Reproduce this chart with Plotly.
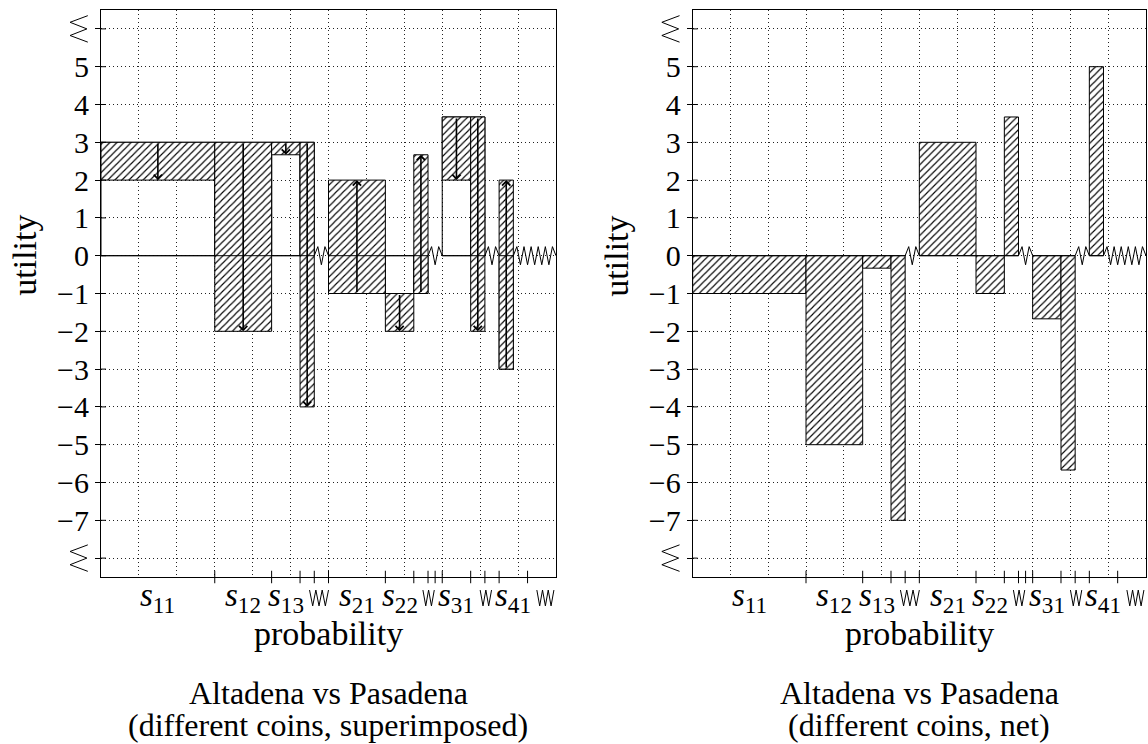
import plotly.graph_objects as go

# ---------------- data ----------------
x_start = [0, 3, 4.5, 5.25, 6, 7.5, 8.25, 9, 9.75, 10.5]
x_end = [3, 4.5, 5.25, 5.625, 7.5, 8.25, 8.625, 9.75, 10.125, 10.875]
altadena = [3, 3, 3, 3, -1, -1, -1, 3.67, 3.67, -3]
pasadena = [2, -2, 2.67, -4, 2, -2, 2.67, 2, -2, 2]
x_max = 12

label_pos = [1.5, 3.75, 4.875, 6.75, 7.875, 9.375, 10.875]
label_text = ["<i>s</i><sub>11</sub>", "<i>s</i><sub>12</sub>", "<i>s</i><sub>13</sub>",
              "<i>s</i><sub>21</sub>", "<i>s</i><sub>22</sub>", "<i>s</i><sub>31</sub>",
              "<i>s</i><sub>41</sub>"]
boundary_ticks = [3, 4.5, 5.25, 5.625, 6, 7.5, 8.25, 8.625, 8.8125, 9, 9.75, 10.125, 10.5, 11.25]
break_label_pos = [5.75, 8.64, 10.15, 11.72]
break_label_width = [0.5, 0.3, 0.3, 0.45]
break_label_vertices = [7, 5, 5, 7]

y_ticks = list(range(-8, 7))
y_break_ticks = [-8, 6]
y_range = [-8.5, 6.5]

captions = [("Altadena vs Pasadena", "(different coins, superimposed)"),
            ("Altadena vs Pasadena", "(different coins, net)")]

FONT = "Liberation Serif"
HATCH = dict(shape="/", size=5, solidity=0.22, fgcolor="black", bgcolor="white", fillmode="replace")
GRID = dict(color="#222", dash="1px,3px", width=1)

net = [p - a for p, a in zip(pasadena, altadena)]


def rect(x0, x1, y0, y1):
    return [x0, x1, x1, x0, x0], [y0, y0, y1, y1, y0]


def zero_line():
    gaps = []
    for i in range(len(x_start)):
        nxt = x_start[i + 1] if i + 1 < len(x_start) else x_max
        if nxt > x_end[i]:
            gaps.append((x_end[i], nxt))
    xs, ys = [0], [0]
    amp = 0.24
    for a, b in gaps:
        w = b - a
        n = max(3, int(round(w / 0.095)) - 1)
        d = w / (n + 1)
        xs.append(a); ys.append(0)
        for k in range(n):
            xs.append(a + d * (k + 1))
            ys.append(amp if k % 2 == 0 else -amp)
        xs.append(b); ys.append(0)
    if xs[-1] < x_max:
        xs.append(x_max); ys.append(0)
    return xs, ys


fig = go.Figure()
shapes = []
annotations = []

panels = [("x", "y", "superimposed"), ("x2", "y2", "net")]
for pi, (xa, ya, mode) in enumerate(panels):
    if mode == "superimposed":
        for i in range(len(x_start)):
            px, py = rect(x_start[i], x_end[i], 0, altadena[i])
            fig.add_trace(go.Scatter(x=px, y=py, mode="lines", line=dict(color="black", width=1),
                                     xaxis=xa, yaxis=ya, showlegend=False, hoverinfo="skip"))
        for i in range(len(x_start)):
            px, py = rect(x_start[i], x_end[i], altadena[i], pasadena[i])
            fig.add_trace(go.Scatter(x=px, y=py, mode="lines", fill="toself", fillcolor="white",
                                     fillpattern=HATCH, line=dict(color="black", width=1),
                                     xaxis=xa, yaxis=ya, showlegend=False, hoverinfo="skip"))
    else:
        for i in range(len(x_start)):
            px, py = rect(x_start[i], x_end[i], 0, net[i])
            fig.add_trace(go.Scatter(x=px, y=py, mode="lines", fill="toself", fillcolor="white",
                                     fillpattern=HATCH, line=dict(color="black", width=1),
                                     xaxis=xa, yaxis=ya, showlegend=False, hoverinfo="skip"))
    zx, zy = zero_line()
    fig.add_trace(go.Scatter(x=zx, y=zy, mode="lines", line=dict(color="black", width=1),
                             xaxis=xa, yaxis=ya, showlegend=False, hoverinfo="skip"))

    if mode == "superimposed":
        for i in range(len(x_start)):
            xc = (x_start[i] + x_end[i]) / 2
            annotations.append(dict(x=xc, y=pasadena[i], ax=xc, ay=altadena[i],
                                    xref=xa, yref=ya, axref=xa, ayref=ya,
                                    showarrow=True, arrowhead=4, arrowsize=1,
                                    arrowwidth=1.6, arrowcolor="black", text="", standoff=0))

    xd = xa + " domain"
    yd = ya + " domain"
    # inside part of y ticks
    for v in y_ticks:
        shapes.append(dict(type="line", xref=xd, yref=ya, x0=0, x1=0.011, y0=v, y1=v,
                           line=dict(color="black", width=1)))
    # boundary ticks on x axis
    for v in boundary_ticks:
        shapes.append(dict(type="line", xref=xa, yref=yd, x0=v, x1=v, y0=-0.011, y1=0.011,
                           line=dict(color="black", width=1)))
    # y-axis break glyphs
    for v in y_break_ticks:
        gx = [-0.029, -0.068, -0.031, -0.068, -0.029]
        gy = [v + 0.35, v + 0.175, v, v - 0.175, v - 0.35]
        path = "M " + " L ".join(f"{a},{b}" for a, b in zip(gx, gy))
        shapes.append(dict(type="path", xref=xd, yref=ya, path=path,
                           line=dict(color="black", width=1)))
    # x-axis break glyphs
    for c, w, n in zip(break_label_pos, break_label_width, break_label_vertices):
        gx = [c - w / 2 + w * k / (n - 1) for k in range(n)]
        gy = [-0.023 if k % 2 == 0 else -0.051 for k in range(n)]
        path = "M " + " L ".join(f"{a},{b}" for a, b in zip(gx, gy))
        shapes.append(dict(type="path", xref=xa, yref=yd, path=path,
                           line=dict(color="black", width=1)))

    # state labels under the axis
    for pos, txt in zip(label_pos, label_text):
        annotations.append(dict(text=txt, xref=xa, yref=yd, x=pos, y=-0.037,
                                showarrow=False, xanchor="center", yanchor="middle",
                                font=dict(family=FONT, size=33, color="black")))

    annotations.append(dict(text="utility", xref=xd, yref=ya, x=-0.167, y=0, textangle=-90,
                            showarrow=False, xanchor="center", yanchor="middle",
                            font=dict(family=FONT, size=34, color="black")))
    annotations.append(dict(text="probability", xref=xd, yref=yd, x=0.5, y=-0.099,
                            showarrow=False, xanchor="center", yanchor="middle",
                            font=dict(family=FONT, size=34, color="black")))
    annotations.append(dict(text=captions[pi][0], xref=xd, yref=yd, x=0.5, y=-0.2045,
                            showarrow=False, xanchor="center", yanchor="middle",
                            font=dict(family=FONT, size=32, color="black")))
    annotations.append(dict(text=captions[pi][1], xref=xd, yref=yd, x=0.5, y=-0.261,
                            showarrow=False, xanchor="center", yanchor="middle",
                            font=dict(family=FONT, size=32, color="black")))

y_ticktext = ["" if v in y_break_ticks else str(v).replace("-", "\u2212") for v in y_ticks]

xaxis_common = dict(range=[0, x_max], tickmode="array", tickvals=label_pos,
                    showticklabels=False, ticks="", showgrid=False, zeroline=False,
                    showline=True, linecolor="black", linewidth=1, mirror=True,
                    minor=dict(tickvals=list(range(1, x_max)), showgrid=True, gridcolor=GRID["color"],
                               griddash=GRID["dash"], gridwidth=GRID["width"], ticks=""),
                    fixedrange=True)
yaxis_common = dict(range=y_range, tickmode="array", tickvals=y_ticks, ticktext=y_ticktext,
                    ticks="outside", ticklen=5, tickcolor="black", tickwidth=1,
                    showgrid=True, gridcolor=GRID["color"], griddash=GRID["dash"],
                    gridwidth=GRID["width"], zeroline=False, showline=True, linecolor="black",
                    linewidth=1, mirror=True, tickfont=dict(family=FONT, size=30, color="black"),
                    fixedrange=True)

fig.update_layout(
    width=1148, height=744,
    margin=dict(l=101, r=2, t=10, b=167),
    paper_bgcolor="white", plot_bgcolor="white",
    xaxis=dict(domain=[0, 0.4354], anchor="y", **xaxis_common),
    xaxis2=dict(domain=[0.5662, 1], anchor="y2", **xaxis_common),
    yaxis=dict(domain=[0, 1], anchor="x", **yaxis_common),
    yaxis2=dict(domain=[0, 1], anchor="x2", **yaxis_common),
    shapes=shapes,
    annotations=annotations,
    showlegend=False,
)

fig.write_html("out.html", config={"displayModeBar": False},
               post_script="document.body.style.margin='0px';")
